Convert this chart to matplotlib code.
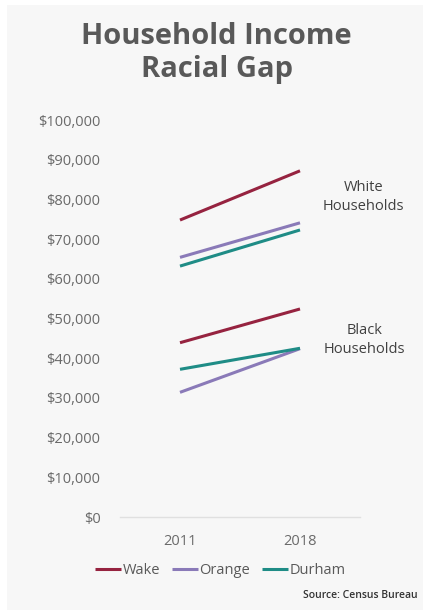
import matplotlib.pyplot as plt
from matplotlib.patches import Rectangle
from matplotlib.ticker import FuncFormatter

years = ['2011', '2018']
counties = ['Wake', 'Orange', 'Durham']
colors = ['#962340', '#8a7ab8', '#1f8c86']

white_income = [[74800, 87200], [65400, 74100], [63200, 72300]]
black_income = [[43900, 52400], [31400, 42400], [37200, 42500]]

plt.rcParams['font.family'] = ['Open Sans', 'DejaVu Sans']

fig = plt.figure(figsize=(4.25, 6.13), dpi=100)
fig.patch.set_facecolor('white')
fig.patches.append(Rectangle((7 / 425, 3 / 613), 416 / 425, 605 / 613,
                             transform=fig.transFigure, facecolor='#f7f7f7',
                             edgecolor='none', zorder=-10))

ax = fig.add_axes([120 / 425, 96 / 613, 240 / 425, 397 / 613])
ax.set_facecolor('none')

x = range(len(years))
for name, c, w, b in zip(counties, colors, white_income, black_income):
    ax.plot(x, w, color=c, lw=2.2, solid_capstyle='butt', label=name)
    ax.plot(x, b, color=c, lw=2.2, solid_capstyle='butt')

ax.set_xlim(-0.5, 1.5)
ax.set_ylim(0, 100000)
ax.set_yticks(range(0, 100001, 10000))
ax.yaxis.set_major_formatter(FuncFormatter(lambda v, p: f'${v:,.0f}'))
ax.set_xticks(list(x))
ax.set_xticklabels(years)
ax.tick_params(length=0, labelsize=10.5, colors='#6a6a6a', pad=14)
ax.tick_params(axis='x', pad=12)
for s in ['top', 'right', 'left']:
    ax.spines[s].set_visible(False)
ax.spines['bottom'].set_color('#e0e0e0')
ax.spines['bottom'].set_linewidth(1)

ax.text(1.53, 80600, 'White\nHouseholds', ha='center', va='center',
        fontsize=10.5, color='#404040', linespacing=1.4)
ax.text(1.54, 44600, 'Black\nHouseholds', ha='center', va='center',
        fontsize=10.5, color='#404040', linespacing=1.4)

fig.text(0.51, 560 / 613, 'Household Income\nRacial Gap', ha='center',
         va='center', fontsize=21, fontweight='bold', color='#595959',
         linespacing=1.15)

fig.legend(loc='center', bbox_to_anchor=(0.518, 42 / 613), ncol=3,
           frameon=False, fontsize=10.5, handlelength=1.8, handletextpad=0.1,
           columnspacing=0.8, labelcolor='#595959')

fig.text(418 / 425, 18 / 613, 'Source: Census Bureau', ha='right',
         va='center', fontsize=7.5, fontweight='semibold', color='#333333')

fig.savefig('out.png', dpi=100, facecolor=fig.get_facecolor())
